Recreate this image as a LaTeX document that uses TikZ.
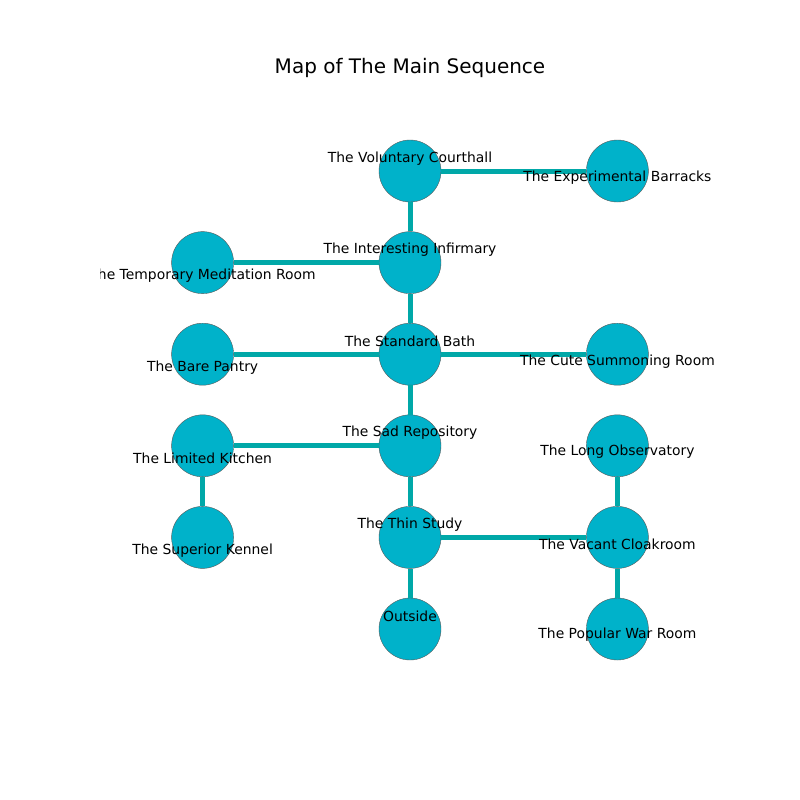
\documentclass[tikz,border=0pt]{standalone}
\usepackage{fontspec}
\setmainfont{DejaVu Sans}
\usetikzlibrary{positioning,matrix}
\definecolor{roomfill}{RGB}{0,178,202}
\definecolor{passage}{RGB}{0,168,168}

\begin{document}
\begin{tikzpicture}[x=1pt,y=-1pt,room/.style={circle,minimum size=62pt,inner sep=0pt,fill=roomfill,draw=gray!70!black,line width=0.4pt}, edge/.style={line width=5pt,draw=passage},blank/.style={minimum size=62pt,inner sep=0pt}, lbl/.style={font=\fontsize{13.9}{16}\selectfont,inner sep=0pt}]
\useasboundingbox (0,0) rectangle (800,800);
\node[font=\fontsize{20}{24}\selectfont] (title) at (410,68) {Map of The Main Sequence};
\matrix[row sep=29.2pt,column sep=145pt] at (410,400)
{
\node(b1)[blank]{};  \pgfmatrixnextcell \node(vc)[room]{};  \pgfmatrixnextcell \node(eb)[room]{};\\
\node(tm)[room]{};  \pgfmatrixnextcell \node(ii)[room]{};  \pgfmatrixnextcell \node(b2)[blank]{};\\
\node(bp)[room]{};  \pgfmatrixnextcell \node(sb)[room]{};  \pgfmatrixnextcell \node(cs)[room]{};\\
\node(lk)[room]{};  \pgfmatrixnextcell \node(sr)[room]{};  \pgfmatrixnextcell \node(lo)[room]{};\\
\node(sk)[room]{};  \pgfmatrixnextcell \node(ts)[room]{};  \pgfmatrixnextcell \node(vk)[room]{};\\
\node(b3)[blank]{};  \pgfmatrixnextcell \node(os)[room]{};  \pgfmatrixnextcell \node(pw)[room]{};\\
};

\draw [edge] (vc) to (eb);
\draw [edge] (vc) to (ii);
\draw [edge] (ii) to (tm);
\draw [edge] (ii) to (sb);
\draw [edge] (sb) to (bp);
\draw [edge] (sb) to (cs);
\draw [edge] (sb) to (sr);
\draw [edge] (sr) to (lk);
\draw [edge] (lk) to (sk);
\draw [edge] (sr) to (ts);
\draw [edge] (ts) to (vk);
\draw [edge] (ts) to (os);
\draw [edge] (vk) to (lo);
\draw [edge] (vk) to (pw);

% room names, cut off at the plot frame
\begin{scope}
\clip (100,96) rectangle (720,712);
\node[lbl] (vct) at ([yshift=12pt]vc) {The Voluntary Courthall};
\node[lbl] (ebt) at ([yshift=-7pt]eb) {The Experimental Barracks};
\node[lbl] (iit) at ([yshift=13pt]ii) {The Interesting Infirmary};
\node[lbl] (tmt) at ([yshift=-13pt]tm) {The Temporary Meditation Room};
\node[lbl] (sbt) at ([yshift=13pt]sb) {The Standard Bath};
\node[lbl] (bpt) at ([yshift=-13pt]bp) {The Bare Pantry};
\node[lbl] (cst) at ([yshift=-7pt]cs) {The Cute Summoning Room};
\node[lbl] (srt) at ([yshift=13pt]sr) {The Sad Repository};
\node[lbl] (lkt) at ([yshift=-13pt]lk) {The Limited Kitchen};
\node[lbl] (lot) at ([yshift=-6pt]lo) {The Long Observatory};
\node[lbl] (tst) at ([yshift=13pt]ts) {The Thin Study};
\node[lbl] (skt) at ([yshift=-13pt]sk) {The Superior Kennel};
\node[lbl] (vkt) at ([yshift=-7pt]vk) {The Vacant Cloakroom};
\node[lbl] (ost) at ([yshift=13pt]os) {Outside};
\node[lbl] (pwt) at ([yshift=-6pt]pw) {The Popular War Room};
\end{scope}
\end{tikzpicture}
\end{document}
